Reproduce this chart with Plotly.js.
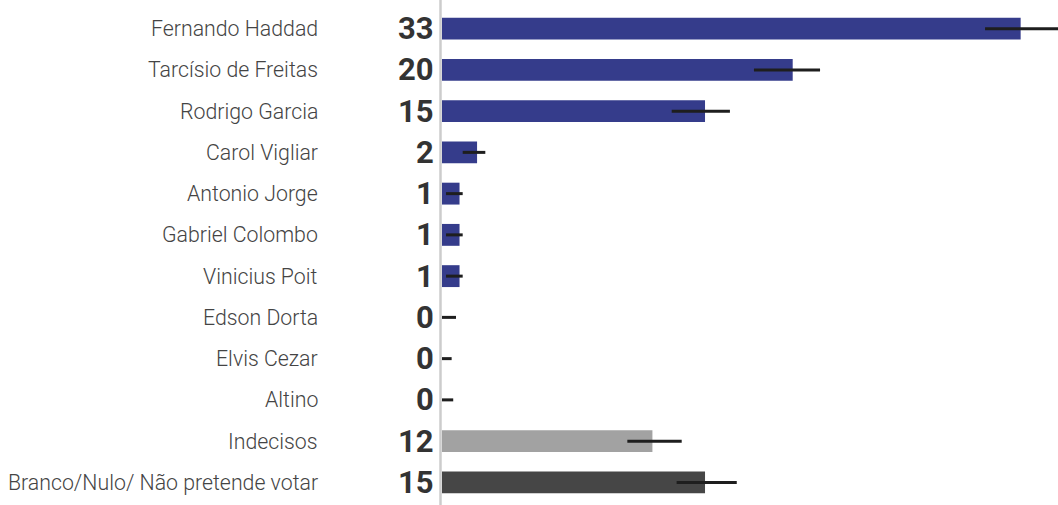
<!DOCTYPE html>
<html>
<head>
<meta charset="utf-8">
<script src="https://cdn.plot.ly/plotly-3.0.1.min.js"></script>
<style>
html,body{margin:0;padding:0;background:#fff;}
#chart{width:1058px;height:505px;}
</style>
</head>
<body>
<div id="chart"></div>
<script>
var categories = ["Fernando Haddad","Tarcísio de Freitas","Rodrigo Garcia","Carol Vigliar","Antonio Jorge","Gabriel Colombo","Vinicius Poit","Edson Dorta","Elvis Cezar","Altino","Indecisos","Branco/Nulo/ Não pretende votar"];
var values = [33,20,15,2,1,1,1,0,0,0,12,15];
var errLow = [30.97,17.79,13.10,1.18,0.23,0.23,0.23,0,0,0,10.57,13.38];
var errHigh = [35.2,21.56,16.42,2.47,1.18,1.18,1.18,0.80,0.55,0.64,13.67,16.81];
var barColors = ["#353c8b","#353c8b","#353c8b","#353c8b","#353c8b","#353c8b","#353c8b","#353c8b","#353c8b","#353c8b","#a2a2a2","#464646"];

var plus = values.map(function(v,i){return errHigh[i]-v;});
var minus = values.map(function(v,i){return v-errLow[i];});

var trace = {
  type:"bar",
  orientation:"h",
  x: values,
  y: categories,
  marker:{color:barColors},
  error_x:{type:"data",symmetric:false,array:plus,arrayminus:minus,color:"#1e1e1e",thickness:3,width:0},
  hoverinfo:"none"
};

var annotations = [];
categories.forEach(function(c,i){
  annotations.push({xref:"paper",yref:"y",x:0,y:c,xanchor:"right",yanchor:"middle",xshift:-122,text:c,showarrow:false,
    font:{family:"Roboto",size:21.3,color:"#444444",weight:300}});
  annotations.push({xref:"paper",yref:"y",x:0,y:c,xanchor:"right",yanchor:"middle",xshift:-6,text:String(values[i]),showarrow:false,
    font:{family:"Roboto",size:31,color:"#333333",weight:700}});
});

var layout = {
  width:1058,height:505,
  margin:{l:442,r:0,t:8,b:2,pad:0},
  paper_bgcolor:"#ffffff",plot_bgcolor:"rgba(0,0,0,0)",
  showlegend:false,
  bargap:0.47,
  xaxis:{range:[0,35.13],showgrid:false,zeroline:false,showticklabels:false,ticks:"",fixedrange:true},
  yaxis:{type:"category",autorange:"reversed",showticklabels:false,showgrid:false,zeroline:false,ticks:"",fixedrange:true},
  shapes:[{type:"line",xref:"paper",yref:"paper",xsizemode:"pixel",xanchor:0,x0:-1.5,x1:-1.5,y0:-0.02,y1:1.02,line:{color:"#cccccc",width:2.5},layer:"above"}],
  annotations:annotations
};

Plotly.newPlot("chart",[trace],layout,{displayModeBar:false,staticPlot:true});
</script>
</body>
</html>
